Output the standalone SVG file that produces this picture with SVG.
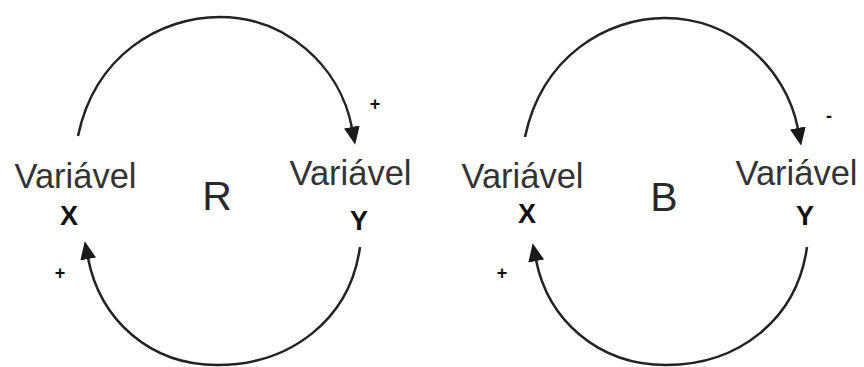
<svg xmlns="http://www.w3.org/2000/svg" width="864" height="367" viewBox="0 0 864 367">
<defs>
<style>
.var{font-family:"Liberation Sans",Arial,sans-serif;font-size:34.5px;fill:#333;text-anchor:middle}
.xy{font-family:"Liberation Sans",Arial,sans-serif;font-size:27px;font-weight:bold;fill:#111;text-anchor:middle}
.big{font-family:"Liberation Sans",Arial,sans-serif;font-size:41px;fill:#2a2a2a;text-anchor:middle}
.sign{font-family:"Liberation Sans",Arial,sans-serif;font-size:18px;font-weight:bold;fill:#111;text-anchor:middle}
.link{fill:none;stroke:#222;stroke-width:2.5;marker-end:url(#arr)}
</style>
<marker id="arr" viewBox="0 0 18 16" markerWidth="18" markerHeight="16" refX="1" refY="8" orient="auto" markerUnits="userSpaceOnUse">
<path d="M0,0 L18,8 L0,16 z" fill="#1a1a1a"/>
</marker>
</defs>
<rect width="864" height="367" fill="#fff"/>
<g id="connectors">
<path class="link" d="M78,136 C95,55 160,17 220,17 C285,17 340,65 352,128"/>
<path class="link" d="M360,247 C350,320 290,365 217,365 C150,365 100,320 88,258"/>
<path class="link" d="M525,137 C542,56 607,18 665,18 C730,18 786,66 798,129"/>
<path class="link" d="M807,247 C797,320 738,365 666,365 C598,365 548,320 536,260"/>
</g>
<g id="R-X"><text class="var" x="75.5" y="188">Variável</text><text class="xy" x="69" y="225">X</text></g>
<g id="R-Y"><text class="var" x="350.5" y="185">Variável</text><text class="xy" x="359" y="230">Y</text></g>
<g id="R-label"><text class="big" x="217" y="210">R</text></g>
<g id="B-X"><text class="var" x="522.5" y="188">Variável</text><text class="xy" x="527" y="223">X</text></g>
<g id="B-Y"><text class="var" x="796.5" y="185">Variável</text><text class="xy" x="805" y="225">Y</text></g>
<g id="B-label"><text class="big" x="664" y="211">B</text></g>
<g id="signs">
<text class="sign" x="375" y="110">+</text>
<text class="sign" x="60" y="279">+</text>
<text class="sign" x="502" y="279">+</text>
<text class="sign" x="829" y="122">-</text>
</g>
</svg>
